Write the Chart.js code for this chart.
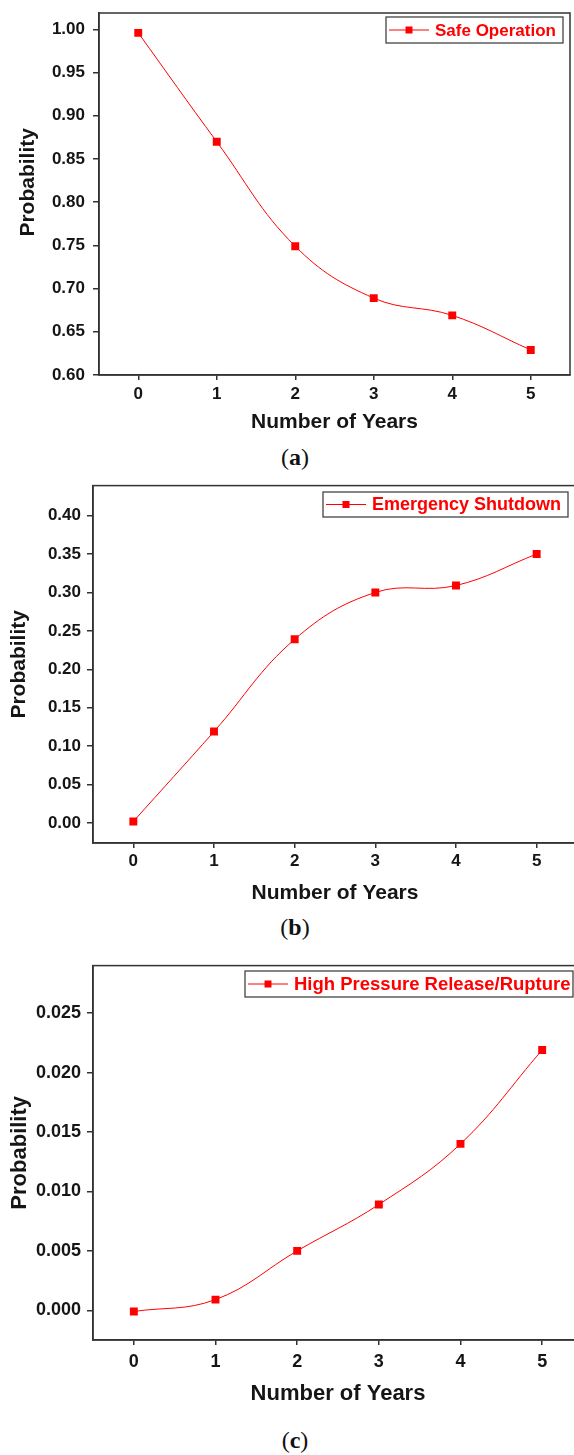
<!DOCTYPE html>
<html>
<head>
<meta charset="utf-8">
<script src="https://cdn.jsdelivr.net/npm/chart.js@4.4.1/dist/chart.umd.min.js"></script>
<style>
  html, body { margin: 0; padding: 0; width: 574px; height: 1455px; overflow: hidden; background: #fff; }
  .panel { position: absolute; left: 0; width: 590px; }
  .cap { position: absolute; left: 245px; width: 100px; text-align: center; font-family: "Liberation Serif", "DejaVu Serif", serif; font-size: 24px; line-height: 24px; color: #111; }
  .cap b { font-weight: bold; }
</style>
</head>
<body>
<div class="panel" style="top:0px;height:440px"><canvas id="chartA"></canvas></div>
<div class="panel" style="top:480px;height:430px"><canvas id="chartB"></canvas></div>
<div class="panel" style="top:960px;height:455px"><canvas id="chartC"></canvas></div>
<div class="cap" style="top:445px">(<b>a</b>)</div>
<div class="cap" style="top:915px">(<b>b</b>)</div>
<div class="cap" style="top:1428px">(<b>c</b>)</div>
<script>
// ---- data ----
const years = ['0', '1', '2', '3', '4', '5'];
const safeOperation = [0.996, 0.870, 0.749, 0.689, 0.669, 0.629];
const emergencyShutdown = [0.002, 0.119, 0.239, 0.300, 0.309, 0.350];
const highPressureRelease = [-0.0001, 0.0009, 0.0050, 0.0089, 0.0140, 0.0219];
const seriesNames = ['Safe Operation', 'Emergency Shutdown', 'High Pressure Release/Rupture'];
const xTitle = 'Number of Years';
const yTitle = 'Probability';

// ---- style ----
const RED = '#ff0000';
const AXIS = '#333333';
const TXT = '#151515';
const FONT = '"Liberation Sans", Arial, sans-serif';

const framePlugin = {
  id: 'frameLegend',
  afterDraw(chart, args, opts) {
    const ctx = chart.ctx;
    const a = chart.chartArea;
    ctx.save();
    ctx.strokeStyle = AXIS;
    ctx.lineWidth = 1.5;
    ctx.strokeRect(a.left, a.top, a.right - a.left, a.bottom - a.top);
    // legend box
    const L = opts;
    if (L && L.w) {
      ctx.fillStyle = '#fff';
      ctx.fillRect(L.x, L.y, L.w, L.h);
      ctx.strokeStyle = '#444';
      ctx.lineWidth = 1.3;
      ctx.strokeRect(L.x, L.y, L.w, L.h);
      const ds = chart.data.datasets[0];
      const cy = L.y + L.h / 2;
      ctx.strokeStyle = ds.borderColor;
      ctx.lineWidth = 1;
      ctx.beginPath();
      ctx.moveTo(L.x + 3, cy);
      ctx.lineTo(L.x + 43, cy);
      ctx.stroke();
      ctx.fillStyle = ds.borderColor;
      ctx.fillRect(L.x + 23 - 3.5, cy - 3.5, 7, 7);
      ctx.font = 'bold ' + L.size + 'px ' + FONT;
      ctx.textBaseline = 'middle';
      ctx.textAlign = 'left';
      ctx.fillText(ds.label, L.x + 49, cy + 1);
    }
    ctx.restore();
  }
};

function makeChart(id, label, values, o) {
  return new Chart(document.getElementById(id), {
    type: 'line',
    data: {
      labels: years,
      datasets: [{
        label: label,
        data: values,
        borderColor: RED,
        backgroundColor: RED,
        borderWidth: 1,
        tension: 0.4,
        fill: false,
        pointStyle: 'rect',
        pointRadius: 5.6,
        pointBorderWidth: 0,
        pointBackgroundColor: RED
      }]
    },
    options: {
      responsive: true,
      maintainAspectRatio: false,
      animation: false,
      events: [],
      layout: { padding: { top: o.padTop, right: o.padRight, bottom: 0, left: 0 } },
      plugins: {
        legend: { display: false },
        tooltip: { enabled: false },
        frameLegend: o.legend
      },
      scales: {
        x: {
          type: 'category',
          offset: true,
          grid: { display: true, drawOnChartArea: false, drawTicks: true, tickLength: 5, color: AXIS, lineWidth: 1.5 },
          border: { display: true, color: AXIS, width: 1.5 },
          ticks: { color: TXT, font: { family: FONT, size: o.tickSize, weight: 'bold' }, padding: o.xTickPad, maxRotation: 0, autoSkip: false },
          title: { display: true, text: xTitle, color: TXT, font: { family: FONT, size: o.titleSize, weight: 'bold' }, padding: { top: 0, bottom: o.xTitlePad } },
          afterFit: s => { s.height = o.xHeight; s.paddingLeft = 0; s.paddingRight = 0; }
        },
        y: {
          type: 'linear',
          min: o.yMin,
          max: o.yMax,
          grid: { display: true, drawOnChartArea: false, drawTicks: true, tickLength: 6, color: AXIS, lineWidth: 1.5 },
          border: { display: true, color: AXIS, width: 1.5 },
          ticks: {
            stepSize: o.step,
            includeBounds: false,
            color: TXT,
            font: { family: FONT, size: o.tickSize, weight: 'bold' },
            padding: o.yTickPad,
            callback: v => (Math.abs(v) < 1e-9 ? 0 : v).toFixed(o.dec)
          },
          title: { display: true, text: o.yTitleText, color: TXT, font: { family: FONT, size: o.titleSize, weight: 'bold' }, padding: { top: o.yTitlePad, bottom: 0 } },
          afterFit: s => { s.width = o.yWidth; s.paddingTop = 0; s.paddingBottom = 0; }
        }
      }
    },
    plugins: [framePlugin]
  });
}

makeChart('chartA', seriesNames[0], safeOperation, {
  padTop: 13, padRight: 20, yWidth: 99, xHeight: 65,
  yMin: 0.60, yMax: 1.019, step: 0.05, dec: 2,
  tickSize: 17, titleSize: 21, xTickPad: 4, yTickPad: 8, xTitlePad: 5, yTitlePad: 16,
  yTitleText: '    ' + yTitle,
  legend: { x: 386, y: 17, w: 177, h: 26, size: 17 }
});
makeChart('chartB', seriesNames[1], emergencyShutdown, {
  padTop: 3, padRight: 13, yWidth: 93, xHeight: 67,
  yMin: -0.026, yMax: 0.439, step: 0.05, dec: 2,
  tickSize: 17, titleSize: 21, xTickPad: 3, yTickPad: 6, xTitlePad: 4, yTitlePad: 7,
  yTitleText: yTitle,
  legend: { x: 323, y: 12, w: 245, h: 25, size: 18 }
});
makeChart('chartC', seriesNames[2], highPressureRelease, {
  padTop: 5, padRight: 7, yWidth: 93, xHeight: 75,
  yMin: -0.0025, yMax: 0.029, step: 0.005, dec: 3,
  tickSize: 18, titleSize: 22, xTickPad: 6, yTickPad: 6, xTitlePad: 8, yTitlePad: 7,
  yTitleText: yTitle,
  legend: { x: 245, y: 11, w: 328, h: 26, size: 18.5 }
});
</script>
</body>
</html>
